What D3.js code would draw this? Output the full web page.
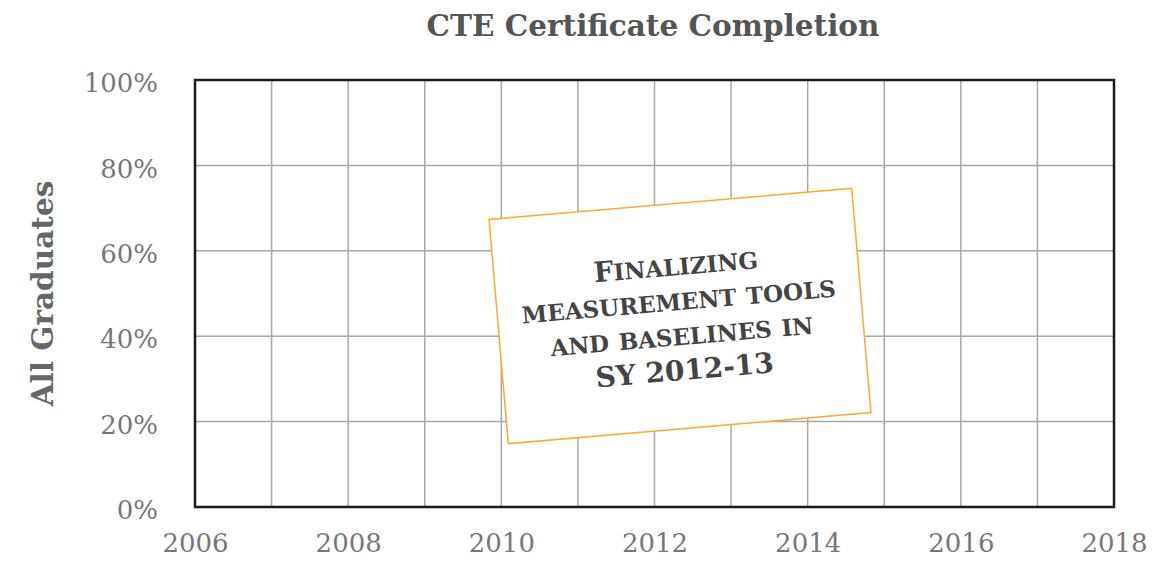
<!DOCTYPE html>
<html>
<head>
<meta charset="utf-8">
<script src="https://cdn.jsdelivr.net/npm/d3@7"></script>
<style>
  body { margin: 0; background: #fff; }
  text { font-family: "DejaVu Serif", Georgia, serif; }
</style>
</head>
<body>
<div id="content"></div>
<script>
// Datos del grafico (sin series: solo ejes y la nota)
const chartTitle = 'CTE Certificate Completion';
const yAxisLabel = 'All Graduates';
const years = [2006, 2007, 2008, 2009, 2010, 2011, 2012, 2013, 2014, 2015, 2016, 2017, 2018];
const yearLabels = [2006, 2008, 2010, 2012, 2014, 2016, 2018];
const percentTicks = [0, 0.2, 0.4, 0.6, 0.8, 1];
const noteLines = ['Finalizing', 'measurement tools', 'and baselines in', 'SY 2012-13'];

const width = 1173;
const height = 562;
const margin = { top: 80, right: 59, bottom: 55, left: 195 };

const svg = d3.select('#content')
              .append('svg')
              .attr('width', width)
              .attr('height', height);

const x = d3.scaleLinear()
            .domain([2006, 2018])
            .range([margin.left, width - margin.right]);

const y = d3.scaleLinear()
            .domain([0, 1])
            .range([height - margin.bottom, margin.top]);

// Rejilla vertical (cada anio) y horizontal (cada 20%)
svg.append('g')
   .selectAll('line')
   .data(years)
   .enter()
   .append('line')
   .attr('x1', d => x(d))
   .attr('x2', d => x(d))
   .attr('y1', y(0))
   .attr('y2', y(1))
   .attr('stroke', '#a8a8a8')
   .attr('stroke-width', 1.5);

svg.append('g')
   .selectAll('line')
   .data(percentTicks)
   .enter()
   .append('line')
   .attr('x1', x(2006))
   .attr('x2', x(2018))
   .attr('y1', d => y(d))
   .attr('y2', d => y(d))
   .attr('stroke', '#a8a8a8')
   .attr('stroke-width', 1.5);

// Marco del area de dibujo
svg.append('rect')
   .attr('x', x(2006))
   .attr('y', y(1))
   .attr('width', x(2018) - x(2006))
   .attr('height', y(0) - y(1))
   .attr('fill', 'none')
   .attr('stroke', '#1a1a1a')
   .attr('stroke-width', 2.5);

// Ejes
const xAxis = svg.append('g')
                 .attr('transform', `translate(0, ${y(0)})`)
                 .call(d3.axisBottom(x).tickValues(yearLabels).tickFormat(d3.format('d')).tickSize(0).tickPadding(27));

const yAxis = svg.append('g')
                 .attr('transform', `translate(${x(2006)}, 0)`)
                 .call(d3.axisLeft(y).tickValues(percentTicks).tickFormat(d3.format('.0%')).tickSize(0).tickPadding(37));

[xAxis, yAxis].forEach(axis => {
    axis.select('.domain').remove();
    axis.selectAll('text')
        .attr('fill', '#777')
        .style('font-family', '"DejaVu Serif", Georgia, serif')
        .style('font-size', '26px');
});
yAxis.selectAll('text').attr('dy', '0.45em');
xAxis.selectAll('text').attr('dy', '0.71em');

// Titulo
svg.append('text')
   .attr('x', 653)
   .attr('y', 36)
   .attr('text-anchor', 'middle')
   .attr('fill', '#555')
   .style('font-size', '29.5px')
   .style('font-weight', 'bold')
   .text(chartTitle);

// Etiqueta del eje Y
svg.append('text')
   .attr('transform', `translate(53, ${(y(0) + y(1)) / 2}) rotate(-90)`)
   .attr('text-anchor', 'middle')
   .attr('fill', '#666')
   .style('font-size', '29.5px')
   .style('font-weight', 'bold')
   .text(yAxisLabel);

// Nota girada
const note = svg.append('g')
                .attr('transform', 'translate(680, 316) rotate(-4.9)');

note.append('rect')
    .attr('x', -182)
    .attr('y', -112.5)
    .attr('width', 364)
    .attr('height', 225)
    .attr('fill', '#fff')
    .attr('stroke', '#fbab26')
    .attr('stroke-width', 1.5);

// Versalitas: minusculas como mayusculas pequenas, el resto a tamano completo
const noteBaselines = [-41, -6, 29, 64];
note.selectAll('text.note')
    .data(noteLines)
    .enter()
    .append('text')
    .attr('class', 'note')
    .attr('x', 0)
    .attr('y', (d, i) => noteBaselines[i])
    .attr('text-anchor', 'middle')
    .attr('fill', '#444')
    .style('font-weight', 'bold')
    .style('font-size', '28px')
    .selectAll('tspan')
    .data(d => d.match(/[a-z]+|[^a-z]+/g))
    .enter()
    .append('tspan')
    .style('font-variant', d => /[a-z]/.test(d) ? 'small-caps' : 'normal')
    .style('font-size', d => /[a-z]/.test(d) ? '33px' : '28px')
    .text(d => d);
</script>
</body>
</html>
